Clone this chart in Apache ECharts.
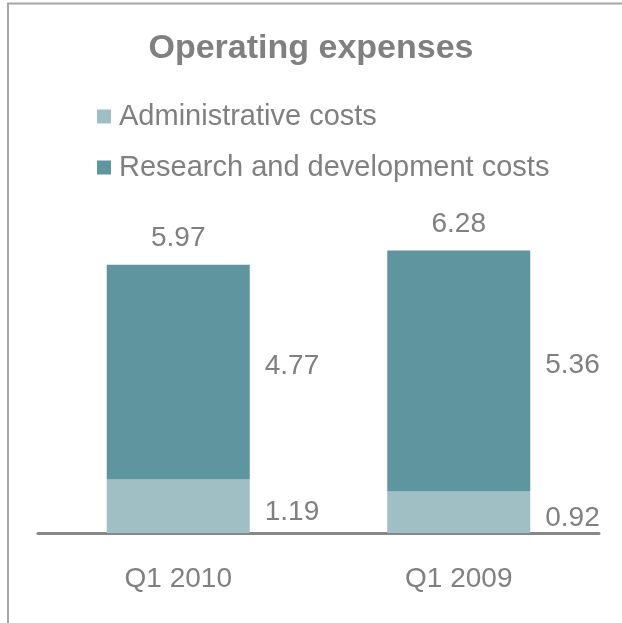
<!DOCTYPE html>
<html>
<head>
<meta charset="utf-8">
<script src="https://cdn.jsdelivr.net/npm/echarts@6/dist/echarts.min.js"></script>
<style>
html,body{margin:0;padding:0;background:#fff;}
#chart{width:622px;height:623px;}
</style>
</head>
<body>
<div id="chart"></div>
<script>
var categories = ['Q1 2010', 'Q1 2009'];
var adminCosts = [1.19, 0.92];
var rdCosts = [4.77, 5.36];
var totals = [5.97, 6.28];

var FONT = '"Liberation Sans", Arial, sans-serif';
var TXT = '#808080';

var chart = echarts.init(document.getElementById('chart'));
chart.setOption({
  animation: false,
  backgroundColor: '#ffffff',
  title: {
    text: 'Operating expenses',
    left: 'center',
    top: 27,
    textStyle: { fontFamily: FONT, fontSize: 34, fontWeight: 'bold', color: TXT }
  },
  legend: {
    orient: 'vertical',
    left: 97,
    top: 102,
    padding: 0,
    itemWidth: 14,
    itemHeight: 14,
    itemGap: 22,
    icon: 'rect',
    data: ['Administrative costs', 'Research and development costs'],
    textStyle: { fontFamily: FONT, fontSize: 29, color: TXT, lineHeight: 29, padding: [0, 0, 0, 3] }
  },
  grid: { left: 38, right: 23, top: 218, bottom: 90 },
  xAxis: {
    type: 'category',
    data: categories,
    axisLine: { lineStyle: { color: '#888888', width: 3 } },
    axisTick: { show: false },
    axisLabel: { fontFamily: FONT, fontSize: 28, color: TXT, margin: 32 }
  },
  yAxis: {
    type: 'value',
    min: 0,
    max: 7,
    show: false,
    splitLine: { show: false }
  },
  series: [
    {
      name: 'Administrative costs',
      type: 'bar',
      stack: 'total',
      barWidth: 143,
      data: adminCosts,
      itemStyle: { color: '#9fbfc5' },
      label: {
        show: true, position: 'right', distance: 15, offset: [0, 6],
        fontFamily: FONT, fontSize: 28, color: TXT,
        formatter: function (p) { return p.value.toFixed(2); }
      }
    },
    {
      name: 'Research and development costs',
      type: 'bar',
      stack: 'total',
      barWidth: 143,
      data: rdCosts,
      itemStyle: { color: '#5f959e' },
      label: {
        show: true, position: 'right', distance: 15, offset: [0, -6],
        fontFamily: FONT, fontSize: 28, color: TXT,
        formatter: function (p) { return p.value.toFixed(2); }
      }
    },
    {
      name: 'Total',
      type: 'scatter',
      data: totals,
      symbolSize: 0.001,
      silent: true,
      itemStyle: { opacity: 1 },
      label: {
        show: true, position: 'top', distance: 12,
        fontFamily: FONT, fontSize: 28, color: TXT,
        formatter: function (p) { return p.value.toFixed(2); }
      }
    }
  ],
  graphic: [
    { type: 'line', shape: { x1: 7, y1: 3.5, x2: 622, y2: 3.5 }, style: { stroke: '#a6a6a6', lineWidth: 2 } },
    { type: 'line', shape: { x1: 8, y1: 3, x2: 8, y2: 623 }, style: { stroke: '#a6a6a6', lineWidth: 2 } }
  ]
});
</script>
</body>
</html>
